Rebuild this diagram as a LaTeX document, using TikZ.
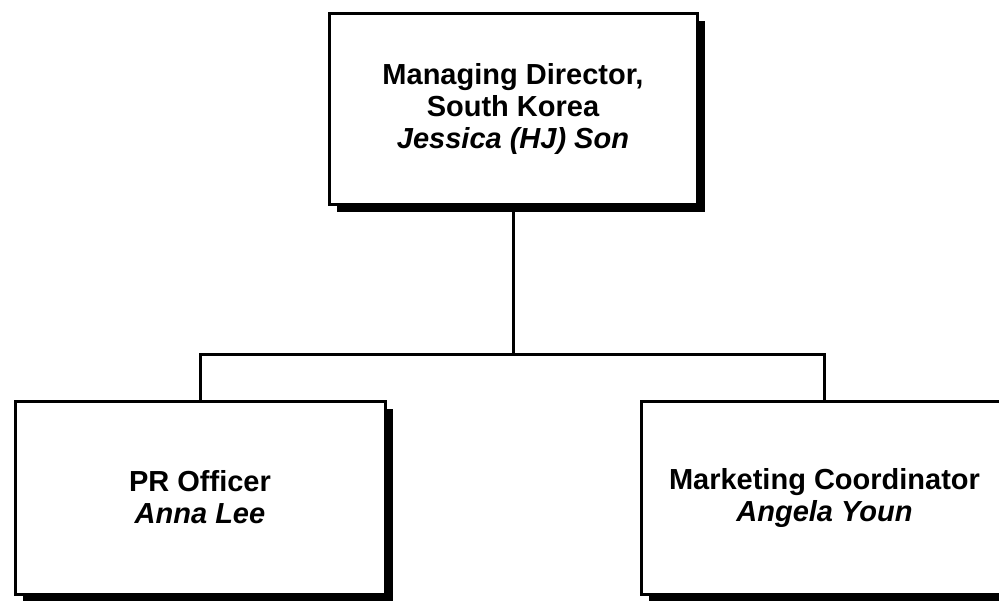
\documentclass[tikz,border=0pt]{standalone}
\usepackage{fontspec}
\setmainfont{Liberation Sans}
\usetikzlibrary{shadows}
\begin{document}
\begin{tikzpicture}[x=1pt,y=-1pt,
  orgbox/.style={draw=black, line width=3pt, fill=white, inner sep=0pt,
    align=center, font=\fontsize{29}{32}\selectfont\bfseries,
    drop shadow={shadow xshift=8pt, shadow yshift=-8pt, fill=black, opacity=1}},
  link/.style={draw=black, line width=3pt, line join=miter}]
\useasboundingbox (0,0) rectangle (999,600);
\clip (0,0) rectangle (999,600);
\node[orgbox, minimum width=368pt, minimum height=191pt] (top) at (513,108.5)
  {Managing Director,\\South Korea\\\textit{Jessica (HJ) Son}};
\node[orgbox, minimum width=370pt, minimum height=193pt] (left) at (200,497.5)
  {PR Officer\\\textit{Anna Lee}};
\node[orgbox, minimum width=367pt, minimum height=193pt] (right) at (824.5,497.5)
  {Marketing Coordinator\\\textit{Angela Youn}};
\coordinate (j) at (513,354);
\path[link] (top.south) -- (j);
\path[link] (left.north) |- (j) -| (right.north);
\end{tikzpicture}
\end{document}
